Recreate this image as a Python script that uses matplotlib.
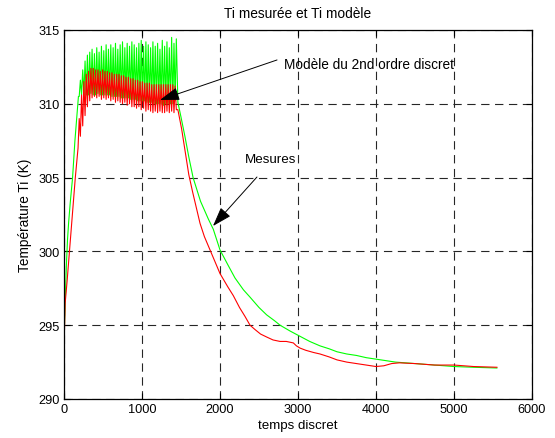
import matplotlib
matplotlib.use("Agg")
import matplotlib.pyplot as plt

plt.rcParams['font.family'] = ['Liberation Sans', 'DejaVu Sans']
plt.rcParams['lines.scale_dashes'] = False

# ---------------- data ----------------
# rise phase
green_rise_x = [0, 5, 15, 30, 45, 60, 80, 110, 140, 170, 185]
green_rise_y = [292.0, 294.8, 296.5, 299.0, 300.8, 302.0, 303.3, 305.0, 307.5, 309.5, 310.5]
red_rise_x = [0, 5, 15, 40, 70, 100, 145, 180]
red_rise_y = [292.0, 294.5, 296.5, 298.0, 300.0, 302.0, 305.0, 307.0]

# oscillating plateau (alternating extremes)
osc_x = [195, 210, 225, 240, 255, 270, 285, 300, 315, 330, 345, 360, 375, 390,
         405, 420, 435, 450, 465, 480, 495, 510, 525, 540, 555, 570, 585, 600,
         615, 630, 645, 660, 675, 690, 705, 720, 735, 750, 765, 780, 795, 810,
         825, 840, 855, 870, 885, 900, 915, 930, 945, 960, 975, 990, 1005, 1020,
         1035, 1050, 1065, 1080, 1095, 1110, 1125, 1140, 1155, 1170, 1185, 1200,
         1215, 1230, 1245, 1260, 1275, 1290, 1305, 1320, 1335, 1350, 1365, 1380,
         1395, 1410, 1425, 1440]
green_osc_y = [310.5, 311.6, 310.6, 312.3, 310.6, 312.9, 310.6, 313.3, 310.6, 313.5,
               310.7, 313.7, 310.6, 313.4, 310.6, 313.8, 310.7, 313.5, 310.6, 313.9,
               310.6, 313.6, 310.6, 314.0, 310.6, 313.7, 310.6, 314.0, 310.5, 313.8,
               310.5, 314.1, 310.5, 313.7, 310.5, 314.0, 310.4, 314.2, 310.4, 313.8,
               310.4, 314.1, 310.4, 313.9, 310.3, 314.2, 310.3, 314.0, 310.3, 313.8,
               310.2, 314.1, 310.2, 314.3, 310.2, 313.9, 310.2, 314.2, 310.1, 314.0,
               310.1, 313.8, 310.1, 314.2, 310.0, 313.9, 310.0, 314.1, 310.0, 313.7,
               310.0, 314.3, 309.9, 313.9, 310.0, 314.2, 310.0, 313.8, 310.0, 314.5,
               310.0, 314.1, 310.2, 314.4]
red_osc_y = [309.0, 307.8, 310.6, 308.5, 311.5, 309.2, 312.0, 309.8, 312.2, 310.2,
             312.4, 310.4, 312.4, 310.5, 312.3, 310.4, 312.3, 310.5, 312.2, 310.3,
             312.3, 310.4, 312.2, 310.3, 312.2, 310.4, 312.1, 310.2, 312.1, 310.3,
             312.0, 310.1, 312.0, 310.2, 312.0, 310.1, 311.9, 310.0, 311.9, 310.1,
             311.8, 309.9, 311.8, 310.0, 311.7, 309.8, 311.7, 309.8, 311.6, 309.7,
             311.6, 309.8, 311.5, 309.6, 311.5, 309.7, 311.4, 309.5, 311.4, 309.6,
             311.4, 309.5, 311.3, 309.4, 311.3, 309.5, 311.3, 309.4, 311.3, 309.5,
             311.3, 309.4, 311.3, 309.4, 311.3, 309.5, 311.3, 309.4, 311.3, 309.5,
             311.3, 309.4, 311.2, 309.6]

# decay phase
green_decay_x = [1460, 1500, 1550, 1600, 1655, 1750, 1850, 1914, 2000, 2100, 2192,
                 2300, 2385, 2500, 2598, 2700, 2770, 2900, 3026, 3150, 3282, 3400,
                 3500, 3625, 3750, 3875, 4000, 4250, 4500, 4750, 5000, 5250, 5550]
green_decay_y = [310.1, 309.1, 307.8, 306.4, 305.0, 303.4, 302.2, 301.5, 300.1, 299.1,
                 298.2, 297.4, 296.9, 296.2, 295.7, 295.3, 295.0, 294.6, 294.25, 293.9,
                 293.6, 293.4, 293.2, 293.05, 292.95, 292.8, 292.7, 292.5, 292.4, 292.3,
                 292.2, 292.15, 292.1]
red_decay_x = [1460, 1508, 1550, 1600, 1650, 1700, 1744, 1800, 1872, 2000, 2100,
               2171, 2250, 2320, 2385, 2450, 2520, 2598, 2680, 2770, 2850, 2940,
               2980, 3026, 3100, 3200, 3282, 3400, 3500, 3625, 3750, 3875, 4000,
               4100, 4200, 4300, 4500, 4750, 5000, 5250, 5550]
red_decay_y = [309.6, 308.3, 306.9, 305.2, 304.0, 302.9, 301.9, 301.0, 300.1, 298.5,
               297.6, 297.0, 296.2, 295.6, 295.0, 294.7, 294.4, 294.2, 294.0, 293.9,
               293.9, 293.8, 293.6, 293.45, 293.3, 293.15, 293.05, 292.85, 292.65,
               292.5, 292.4, 292.3, 292.2, 292.25, 292.4, 292.45, 292.4, 292.3, 292.3,
               292.2, 292.15]

x_ticks = [0, 1000, 2000, 3000, 4000, 5000, 6000]
y_ticks = [290, 295, 300, 305, 310, 315]

title = "Ti mesurée et Ti modèle"
xlabel = "temps discret"
ylabel = "Température Ti (K)"
label_model = "Modèle du 2nd ordre discret"
label_meas = "Mesures"

# ---------------- figure ----------------
fig = plt.figure(figsize=(5.55, 4.39), dpi=100)
ax = fig.add_axes([64/555, 39/439, 468/555, 369/439])

gx = green_rise_x + osc_x + green_decay_x
gy = green_rise_y + green_osc_y + green_decay_y
rx = red_rise_x + osc_x + red_decay_x
ry = red_rise_y + red_osc_y + red_decay_y

ax.plot(gx, gy, color='#00ff00', lw=0.8)
ax.plot(rx, ry, color='#ff0000', lw=0.8)

ax.set_xlim(0, 6000)
ax.set_ylim(290, 315)
ax.set_xticks(x_ticks)
ax.set_yticks(y_ticks)
ax.tick_params(direction='in', top=True, right=True, length=4, width=0.8,
               labelsize=9.2, pad=3, colors='k')
for s in ax.spines.values():
    s.set_linewidth(0.9)
ax.grid(True, color='0.15', lw=0.8, ls=(0, (6, 4)))
ax.set_axisbelow(True)

ax.set_title(title, fontsize=9.9, pad=9)
ax.set_xlabel(xlabel, fontsize=9.6, labelpad=3)
ax.set_ylabel(ylabel, fontsize=9.8, labelpad=5)

arrow_kw = dict(arrowstyle='-|>,head_length=1.2,head_width=0.4', color='k', lw=0.7,
                shrinkA=0, shrinkB=0, mutation_scale=10)
ax.annotate('', xy=(1231, 310.26), xytext=(2731, 312.97), arrowprops=arrow_kw)
ax.annotate('', xy=(1910, 301.72), xytext=(2474, 305.04), arrowprops=arrow_kw)
ax.text(2820, 312.7, label_model, fontsize=9.8, ha='left', va='center')
ax.text(2320, 306.26, label_meas, fontsize=9.6, ha='left', va='center')

fig.savefig('out.png', dpi=100)
